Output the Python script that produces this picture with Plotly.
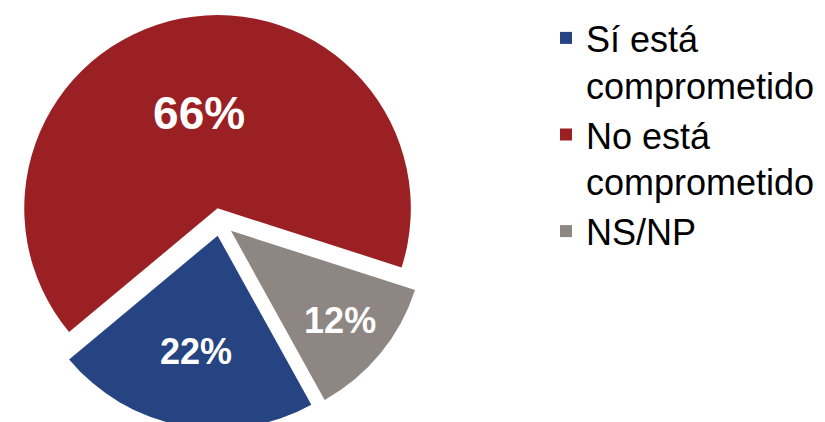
import plotly.graph_objects as go

labels = ["Sí está<br>comprometido", "No está<br>comprometido", "NS/NP"]
values = [22, 66, 12]
colors = ["#264482", "#9B2024", "#8D8682"]
text_sizes = [36, 46, 36]
pulls = [0.072, 0.072, 0.072]

W, H = 825, 422

fig = go.Figure(go.Pie(
    labels=labels,
    values=values,
    sort=False,
    direction="clockwise",
    rotation=151,
    pull=pulls,
    marker=dict(colors=colors, line=dict(width=0)),
    textinfo="percent",
    texttemplate="%{percent:.0%}",
    textposition="inside",
    insidetextorientation="horizontal",
    textfont=dict(family="Liberation Sans, Arial, sans-serif", size=text_sizes,
                  color="white", weight="bold"),
    domain=dict(x=[5 / W, 419.4 / W], y=[1 - 421.2 / H, 1 - 6.8 / H]),
    hoverinfo="label+percent",
))

fig.update_layout(
    width=W, height=H,
    margin=dict(l=0, r=0, t=0, b=0),
    paper_bgcolor="white",
    plot_bgcolor="white",
    showlegend=True,
    legend=dict(
        x=538 / W, xanchor="left",
        y=1.0, yanchor="top",
        valign="top",
        font=dict(family="Liberation Sans, Arial, sans-serif", size=36, color="black"),
        tracegroupgap=0,
        itemclick=False,
    ),
)

fig.write_html("out.html")
